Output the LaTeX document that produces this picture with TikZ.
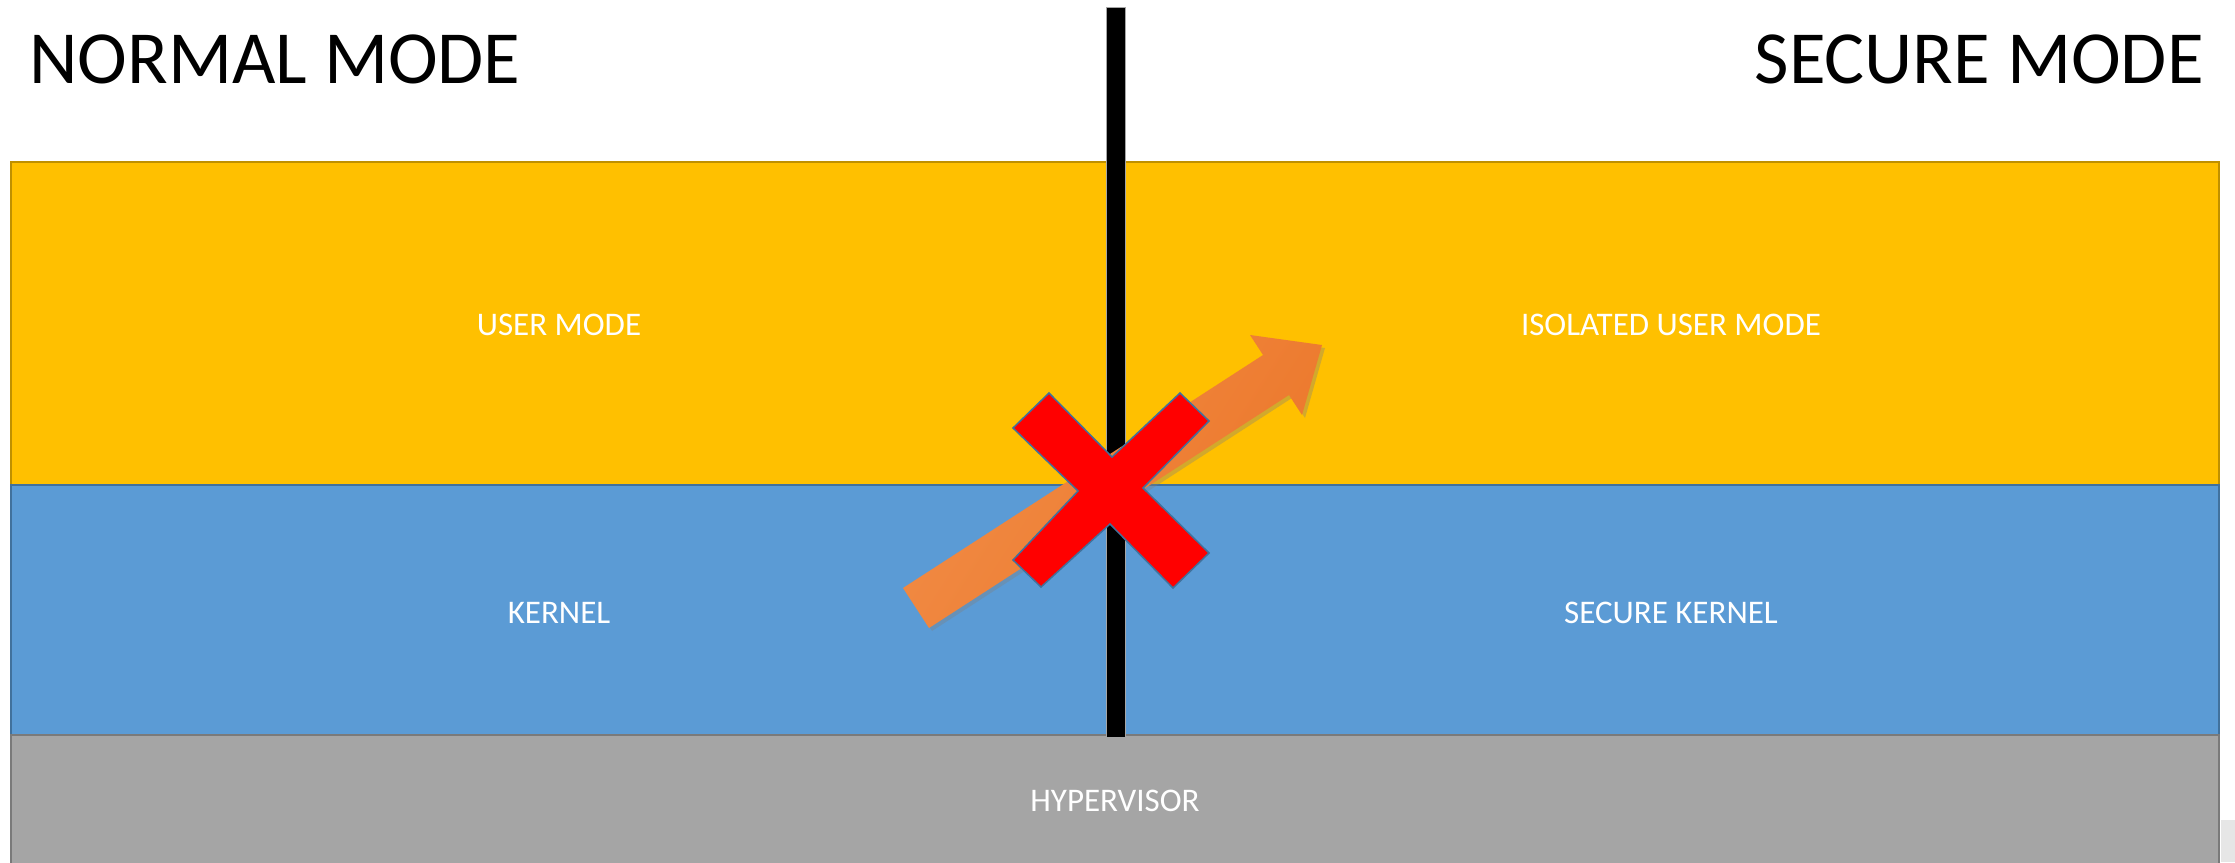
\documentclass[tikz,border=0pt]{standalone}
\usepackage{fontspec}
\setmainfont{Carlito}
\usetikzlibrary{shadows}
\definecolor{ylw}{HTML}{FFC000}
\definecolor{ylwline}{HTML}{BF9000}
\definecolor{blu}{HTML}{5B9BD5}
\definecolor{bluline}{HTML}{41719C}
\definecolor{gry}{HTML}{A5A5A5}
\definecolor{gryline}{HTML}{7A7A7A}
\definecolor{orL}{HTML}{F18C46}
\definecolor{orD}{HTML}{EC772A}
\definecolor{xline}{HTML}{41719C}
\definecolor{corner}{HTML}{E6E6E6}
\begin{document}
\begin{tikzpicture}[x=1pt,y=-1pt,
  layer/.style={line width=2pt},
  lbl/.style={text=white,font=\fontsize{33}{36}\selectfont,inner sep=0pt},
  head/.style={font=\fontsize{75}{80}\selectfont,inner sep=0pt}]
\useasboundingbox (0,0) rectangle (2235,862);
\fill[white] (0,0) rectangle (2235,862);
% layers
\draw[layer,fill=ylw,draw=ylwline] (11,162) rectangle (1116,485);
\draw[layer,fill=ylw,draw=ylwline] (1116,162) rectangle (2219,485);
\draw[layer,fill=blu,draw=bluline] (11,485) rectangle (1116,735);
\draw[layer,fill=blu,draw=bluline] (1116,485) rectangle (2219,735);
\draw[layer,fill=gry,draw=gryline] (11,735) rectangle (2219,875);
\fill[corner] (2221,820) rectangle (2235,862);
\node[lbl] (um) at (559,325) {USER MODE};
\node[lbl] (ium) at (1671,325) {ISOLATED USER MODE};
\node[lbl] (k) at (559,613) {KERNEL};
\node[lbl] (sk) at (1671,613) {SECURE KERNEL};
\node[lbl] (hv) at (1115,801) {HYPERVISOR};
% headings
\node[head,anchor=base west] (nm) at (29,83) {NORMAL MODE};
\node[head,anchor=base east] (sm) at (2204,83) {SECURE MODE};
% separator bar
\draw[fill=black,draw=gray!70,line width=0.8pt] (1106,7) rectangle (1125,737);
% arrow
\path[drop shadow={opacity=0.35,shadow xshift=3pt,shadow yshift=-3pt},
      top color=orL,bottom color=orD,shading angle=57]
  (903,588) -- (1263,355) -- (1250,335) -- (1322,345) -- (1302,415) -- (1289,395) -- (929,628) -- cycle;
% cross
\draw[fill=red,draw=xline,line width=1.5pt,line join=miter]
  (1013,428) -- (1049,393) -- (1112,457) -- (1180,393) -- (1209,421) -- (1143,488)
  -- (1209,553) -- (1173,588) -- (1110,524) -- (1041,587) -- (1013,560) -- (1078,491) -- cycle;
\end{tikzpicture}
\end{document}
